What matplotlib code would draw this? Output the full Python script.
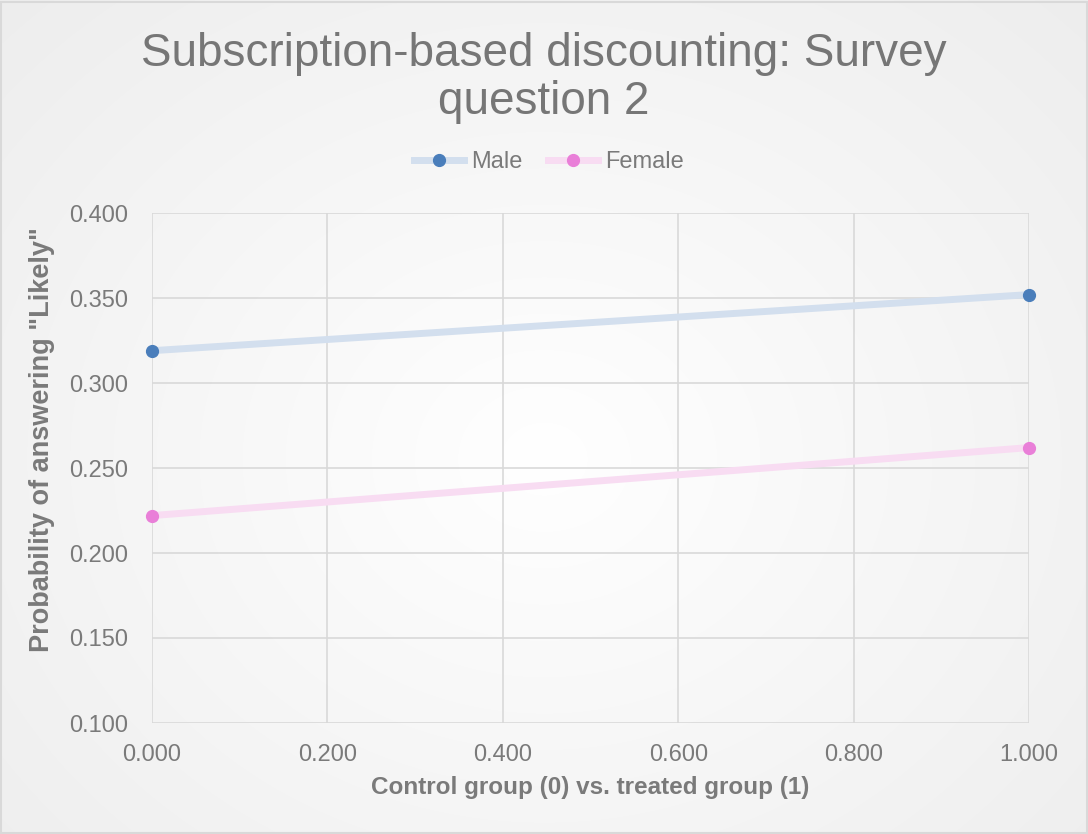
import numpy as np
import matplotlib
matplotlib.use("Agg")
import matplotlib.pyplot as plt
from matplotlib.patches import Rectangle
from matplotlib.lines import Line2D

plt.rcParams['font.family'] = ['Liberation Sans', 'DejaVu Sans']

# Data
groups = [0.0, 1.0]
male = [0.319, 0.352]
female = [0.222, 0.262]
series_names = ["Male", "Female"]
x_ticks = [0.0, 0.2, 0.4, 0.6, 0.8, 1.0]
y_ticks = [0.10, 0.15, 0.20, 0.25, 0.30, 0.35, 0.40]

MALE_LINE, MALE_DOT = '#d3dfee', '#4a7ebb'
FEMALE_LINE, FEMALE_DOT = '#f8dcf2', '#e97fd8'
TEXT = '#7a7a7a'

W, H = 1088, 834
fig = plt.figure(figsize=(W / 100, H / 100), dpi=100)

# Soft radial background
bg = fig.add_axes([0, 0, 1, 1], zorder=-10)
yy, xx = np.mgrid[0:H, 0:W]
r = np.sqrt(((xx - W * 0.5) / (W * 0.5)) ** 2 + ((yy - H * 0.55) / (H * 0.55)) ** 2) / np.sqrt(2)
shade = 1.0 - 0.07 * np.clip(r, 0, 1)
bg.imshow(np.dstack([shade] * 3), extent=[0, 1, 0, 1], aspect='auto', origin='upper')
bg.add_patch(Rectangle((0.001, 0.001), 0.998, 0.997, fill=False, edgecolor='#d9d9d9', lw=1.5,
                       transform=bg.transAxes))
bg.set_axis_off()

ax = fig.add_axes([152 / W, 1 - 723 / H, (1029 - 152) / W, (723 - 213) / H])
ax.patch.set_alpha(0)

ax.plot(groups, male, color=MALE_LINE, lw=5, solid_capstyle='butt', zorder=3, clip_on=False)
ax.plot(groups, male, ls='none', marker='o', ms=8.5, color=MALE_DOT, zorder=4, clip_on=False)
ax.plot(groups, female, color=FEMALE_LINE, lw=5, solid_capstyle='butt', zorder=3, clip_on=False)
ax.plot(groups, female, ls='none', marker='o', ms=8.5, color=FEMALE_DOT, zorder=4, clip_on=False)

ax.set_xlim(0, 1)
ax.set_ylim(0.10, 0.40)
ax.set_xticks(x_ticks)
ax.set_yticks(y_ticks)
ax.set_xticklabels([f"{v:.3f}" for v in x_ticks])
ax.set_yticklabels([f"{v:.3f}" for v in y_ticks])
ax.grid(True, color='#d9d9d9', lw=1.2)
ax.set_axisbelow(True)
for s in ax.spines.values():
    s.set_visible(False)
ax.tick_params(length=0, labelsize=17, labelcolor=TEXT)
ax.tick_params(axis='x', pad=15)
ax.tick_params(axis='y', pad=17)

ax.set_xlabel('Control group (0) vs. treated group (1)', fontsize=17.5, fontweight='bold',
              color=TEXT, labelpad=7)
ax.set_ylabel('Probability of answering "Likely"', fontsize=19.5, fontweight='bold',
              color=TEXT)
ax.yaxis.label.set_va('center')
ax.yaxis.set_label_coords((42 - 152) / 877, (723 - 440) / 510)

fig.text(0.5, 1 - 78 / H, 'Subscription-based discounting: Survey\nquestion 2', ha='center',
         va='center', fontsize=33, color='#767676', linespacing=1.12)

handles = [
    Line2D([], [], color=MALE_LINE, lw=5, marker='o', ms=8.5, markerfacecolor=MALE_DOT,
           markeredgecolor=MALE_DOT),
    Line2D([], [], color=FEMALE_LINE, lw=5, marker='o', ms=8.5, markerfacecolor=FEMALE_DOT,
           markeredgecolor=FEMALE_DOT),
]
fig.legend(handles, series_names, loc='center', bbox_to_anchor=(549 / W, 1 - 162 / H), ncol=2,
           frameon=False, fontsize=17, labelcolor=TEXT, handlelength=2.1,
           columnspacing=1.1, handletextpad=0.3)

fig.savefig('out.png', dpi=100)
